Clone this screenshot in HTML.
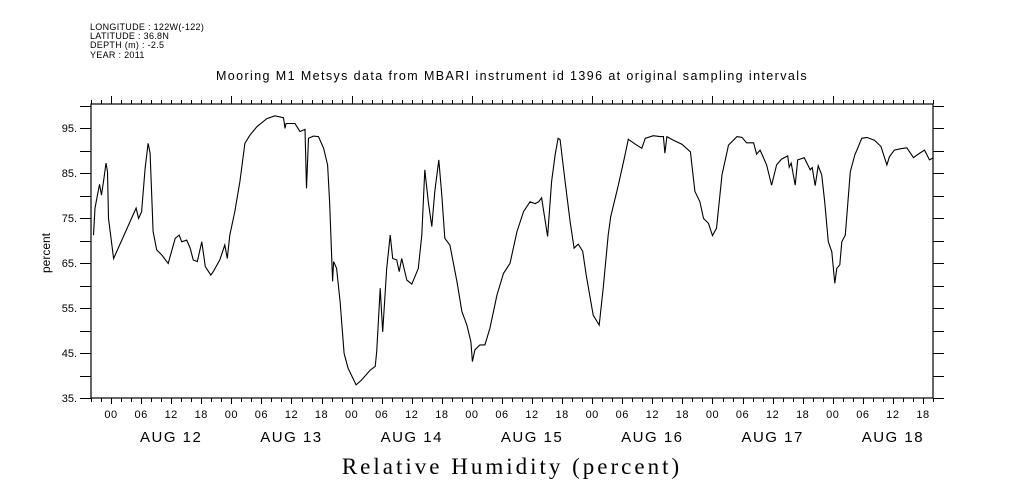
<!DOCTYPE html>
<html><head><meta charset="utf-8"><style>
body{margin:0;background:#fff;}
svg{display:block;font-family:"Liberation Sans",sans-serif;}
</style></head><body>
<svg id="chart" width="1009" height="504" viewBox="0 0 1009 504" xmlns="http://www.w3.org/2000/svg">
<g font-size="9" fill="#000" letter-spacing="0.3">
<text x="90" y="30">LONGITUDE : 122W(-122)</text>
<text x="90" y="39">LATITUDE : 36.8N</text>
<text x="90" y="48">DEPTH (m) : -2.5</text>
<text x="90" y="58">YEAR : 2011</text>
</g>
<text x="512" y="80" font-size="12.5" letter-spacing="1.4" text-anchor="middle">Mooring M1 Metsys data from MBARI instrument id 1396 at original sampling intervals</text>
<text transform="translate(50,253) rotate(-90)" font-size="12" text-anchor="middle">percent</text>
<text x="512" y="474" font-size="23" letter-spacing="3" font-family="Liberation Serif, serif" text-anchor="middle">Relative Humidity (percent)</text>
<g id="axes"></g>
<g id="series"></g>
</svg>
<script>
const hours = [-3.5,-3.2,-2.3,-1.9,-1.4,-1.0,-0.7,-0.5,0.5,5.0,5.5,6.1,6.8,7.4,7.8,8.4,9.1,10.1,11.4,12.8,13.6,14.1,15.1,15.8,16.4,17.2,18.1,18.8,19.9,20.4,21.7,22.7,23.2,23.7,24.7,25.7,26.7,27.7,29.1,31.1,32.7,34.4,34.7,34.9,36.7,37.7,38.7,39.0,39.4,40.4,41.4,42.4,43.2,43.6,44.0,44.2,44.4,45.0,45.7,46.5,47.3,48.9,50.0,51.7,52.7,53.0,53.7,54.2,55.0,55.7,56.2,57.0,57.5,58.0,59.0,60.0,61.3,62.0,62.6,63.3,64.0,64.6,65.4,66.0,66.6,67.6,69.0,70.0,71.0,71.8,72.1,72.6,73.6,74.6,75.6,77.0,78.3,79.6,81.0,82.3,83.6,84.6,85.3,85.9,87.1,87.9,88.6,89.2,89.6,90.6,91.6,92.4,93.2,94.1,94.8,96.2,97.4,98.2,99.2,99.7,101.2,102.4,103.2,104.6,105.9,106.6,108.2,109.5,110.2,110.5,110.9,112.2,113.9,115.6,116.5,117.5,118.2,119.2,120.0,120.8,121.9,123.2,124.9,125.9,126.8,128.2,128.8,129.5,130.8,131.8,132.8,133.8,135.0,135.3,135.7,136.5,137.0,138.3,139.5,139.9,140.5,141.1,141.8,142.4,143.1,143.8,144.4,144.8,145.4,145.8,146.5,147.5,148.4,149.8,150.8,152.3,153.6,154.8,155.3,156.3,157.6,158.8,160.1,160.8,162.3,163.3,164.1];
const humidity = [71.2,77.2,82.5,80.1,83.9,87.2,85.3,74.9,66.0,77.2,74.9,76.4,86.0,91.6,89.4,72.0,67.9,66.8,64.9,70.5,71.2,69.7,70.1,68.3,65.7,65.3,69.7,64.2,62.3,63.1,65.7,69.0,66.0,71.2,76.4,83.1,91.6,93.4,95.3,97.1,97.7,97.3,94.9,96.0,96.0,94.2,94.7,81.6,92.7,93.2,93.1,90.5,86.8,78.6,66.8,60.9,65.3,63.8,56.4,44.9,41.6,37.9,39.0,41.2,42.0,45.3,59.4,49.7,63.8,71.2,66.0,65.7,63.1,66.0,61.2,60.3,63.8,71.2,85.7,78.6,73.1,80.9,87.9,80.1,70.5,69.0,60.9,54.2,51.2,47.5,43.1,45.7,46.8,46.8,50.5,57.9,62.7,64.9,72.0,76.4,78.6,78.2,78.6,79.5,70.9,83.1,89.0,92.7,92.4,83.1,74.2,68.3,69.2,67.6,62.3,53.4,51.2,59.4,71.2,75.3,82.3,88.3,92.5,91.4,90.5,92.7,93.3,93.1,93.1,89.4,93.1,92.3,91.4,89.7,80.9,78.6,74.9,73.8,71.1,72.7,84.6,91.2,93.1,92.9,91.7,91.7,89.2,90.1,86.8,82.3,86.8,88.1,88.8,86.3,87.2,82.3,87.9,88.4,85.7,86.2,82.2,86.6,84.6,78.6,69.7,67.5,60.5,63.8,64.6,69.7,71.2,85.3,89.0,92.7,92.9,92.3,90.9,86.8,88.6,90.1,90.4,90.6,88.4,89.0,90.1,87.9,88.4];
const yTicks = [35,45,55,65,75,85,95];
const hourLabels = ["00","06","12","18"];
const dayLabels = ["AUG 12","AUG 13","AUG 14","AUG 15","AUG 16","AUG 17","AUG 18"];

const X0=91, X1=933, Y0=104, Y1=398, HMIN=-4, HMAX=164, VMIN=35, VPX=4.5;
const xs = h => X0 + (h-HMIN)*(X1-X0)/(HMAX-HMIN);
const ys = v => Y1 - (v-VMIN)*VPX;
const NS="http://www.w3.org/2000/svg";
const axes=document.getElementById('axes'), series=document.getElementById('series');
function mk(tag,attrs,parent){const e=document.createElementNS(NS,tag);for(const k in attrs)e.setAttribute(k,attrs[k]);parent.appendChild(e);return e;}

const frame=mk('rect',{x:X0,y:Y0,width:X1-X0,height:Y1-Y0,fill:'none',stroke:'#000','stroke-width':1.2},axes);



let d='';
for(let h=HMIN;h<=HMAX;h+=2){
  const x=Math.round(xs(h))+0.5;
  const isDay=((h%24)+24)%24===0, is6=((h%6)+6)%6===0;
  d+=`M${x},${Y0}v${isDay?-8:-4}`;
  d+=`M${x},${Y1}v${is6?6:4}`;
}
for(let v=VMIN;v<=100;v+=5){
  const y=Math.round(ys(v))+0.5;
  d+=`M${X0},${y}h-11M${X1},${y}h11`;
}
const tk=mk('path',{d:d,stroke:'#000','stroke-width':1,fill:'none'},axes);



yTicks.forEach(v=>{
  const t=mk('text',{x:77,y:ys(v)+4,'font-size':11,'text-anchor':'end'},axes);
  t.textContent=v+'.';
  
  
});
for(let h=0;h<=HMAX;h+=6){
  const t=mk('text',{x:xs(h),y:418,'font-size':11,'text-anchor':'middle','letter-spacing':0.5},axes);
  t.textContent=hourLabels[(h/6)%4];
  
  
}
dayLabels.forEach((lab,i)=>{
  const t=mk('text',{x:xs(i*24+12),y:442,'font-size':15,'text-anchor':'middle','letter-spacing':1.5},axes);
  t.textContent=lab;
  
  
});

const pts=hours.map((h,i)=>xs(h).toFixed(1)+','+ys(humidity[i]).toFixed(1)).join(' ');
const line=mk('polyline',{points:pts,fill:'none',stroke:'#000','stroke-width':1.1},series);


</script>
</body></html>
